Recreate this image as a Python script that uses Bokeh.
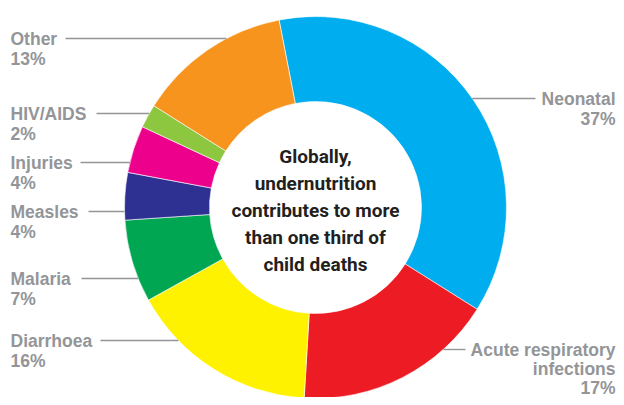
import math
from bokeh.plotting import figure
from bokeh.models import Range1d, ColumnDataSource
from bokeh.core.properties import value
from bokeh.embed import file_html
from bokeh.resources import INLINE

# ---- data ----
causes = ["Neonatal", "Acute respiratory infections", "Diarrhoea", "Malaria",
          "Measles", "Injuries", "HIV/AIDS", "Other"]
shares = [37, 17, 16, 7, 4, 4, 2, 13]
colors = ["#00AEEF", "#ED1C24", "#FFF200", "#00A651",
          "#2E3192", "#EC008C", "#8DC63F", "#F7941D"]
label_names = [["Neonatal"], ["Acute respiratory", "infections"], ["Diarrhoea"],
               ["Malaria"], ["Measles"], ["Injuries"], ["HIV/AIDS"], ["Other"]]
center_lines = ["Globally,", "undernutrition", "contributes to more",
                "than one third of", "child deaths"]

# ---- layout (pixel space, y measured downward) ----
CX, CY = 315, 207
R_OUT, R_IN = 191, 106
START_DEG = 101  # Neonatal begins slightly left of 12 o'clock, runs clockwise
# side, leader y, text x, leader start x, line height
label_layout = [
    ("right", 98, 615, 535, 20.5),
    ("right", 349, 615, 465, 19),
    ("left", 340, 10, 100, 20.5),
    ("left", 278, 10, 81, 20.5),
    ("left", 211, 10, 88, 20.5),
    ("left", 162, 10, 80, 20.5),
    ("left", 113, 10, 96, 20.5),
    ("left", 38, 10, 65, 20.5),
]
GREY = "#939598"

W, H = 616, 397
p = figure(width=W, height=H, output_backend="svg", toolbar_location=None,
           x_range=Range1d(0, W), y_range=Range1d(-H, 0),
           x_axis_type=None, y_axis_type=None, min_border=0)
p.grid.visible = False
p.outline_line_color = None
p.background_fill_color = "white"

# wedges (clockwise from START_DEG)
starts, ends = [], []
cur = START_DEG
for s in shares:
    end = cur
    start = cur - s * 3.6
    starts.append(math.radians(start))
    ends.append(math.radians(end))
    cur = start
src = ColumnDataSource(dict(cause=causes, share=shares, color=colors,
                            start=starts, end=ends))
p.annular_wedge(x=CX, y=-CY, inner_radius=R_IN, outer_radius=R_OUT,
                start_angle="start", end_angle="end", color="color",
                line_color="white", line_width=0.6, source=src)

# leaders and labels
font = value("Liberation Sans")
for names, share, (side, ly, tx, lx, lh) in zip(label_names, shares, label_layout):
    dx = math.sqrt(R_OUT ** 2 - (ly - CY) ** 2)
    ex = CX + dx if side == "right" else CX - dx
    p.segment(x0=[lx], y0=[-ly], x1=[ex], y1=[-ly], line_color=GREY, line_width=1.4)
    lines = names + [f"{share}%"]
    ys = [-(ly + i * lh) for i in range(len(lines))]
    p.text(x=[tx] * len(lines), y=ys, text=lines,
           text_align="right" if side == "right" else "left",
           text_baseline="middle", text_font=font, text_font_size="17.5px",
           text_font_style="bold", text_color=GREY)

# centre text
cy0 = 156
p.text(x=[CX] * len(center_lines), y=[-(cy0 + i * 27) for i in range(len(center_lines))],
       text=center_lines, text_align="center", text_baseline="middle",
       text_font=value("Roboto"),
       text_font_size="19px", text_font_style="bold", text_color="#231F20")

open("out.html", "w").write(file_html(p, INLINE))
